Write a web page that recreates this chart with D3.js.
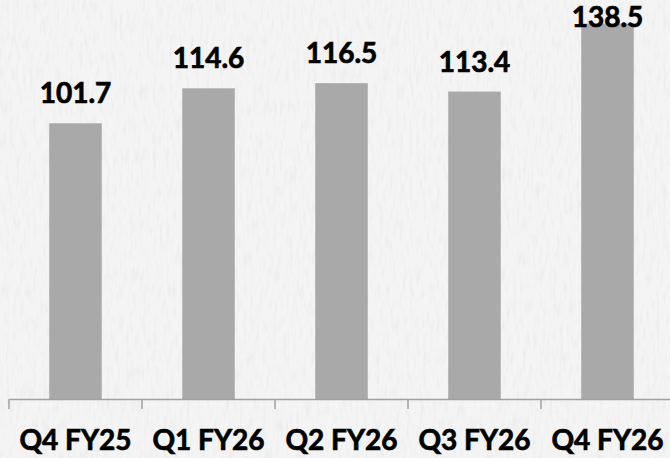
<!DOCTYPE html>
<html>
<head>
<meta charset="utf-8">
<script src="https://cdn.jsdelivr.net/npm/d3@7"></script>
<style>
  body { margin: 0; background: #f1f1f1; }
  svg { display: block; }
  text { font-family: Lato, "Liberation Sans", sans-serif; font-weight: bold; fill: #000; stroke: #000; stroke-width: 0.7px; }
</style>
</head>
<body>
<div id="chart-area"></div>
<script>
var categories = ["Q4 FY25", "Q1 FY26", "Q2 FY26", "Q3 FY26", "Q4 FY26"];
var values = [101.7, 114.6, 116.5, 113.4, 138.5];
var valueLabels = ["101.7", "114.6", "116.5", "113.4", "138.5"];

var svgWidth = 670,
    svgHeight = 458,
    baseY = 399,
    left = 9;

var svg = d3.select("#chart-area")
            .append("svg")
            .attr("width", svgWidth)
            .attr("height", svgHeight);

// paper-like texture for the background
var defs = svg.append("defs");
var filter = defs.append("filter").attr("id", "paper")
                 .attr("x", 0).attr("y", 0).attr("width", "100%").attr("height", "100%");
filter.append("feTurbulence")
      .attr("type", "fractalNoise")
      .attr("baseFrequency", "0.3 0.06")
      .attr("numOctaves", 3)
      .attr("seed", 4)
      .attr("result", "noise");
filter.append("feColorMatrix")
      .attr("in", "noise")
      .attr("type", "matrix")
      .attr("values", "0 0 0 0 0.6  0 0 0 0 0.6  0 0 0 0 0.6  -1.6 0 0 0 0.85");

svg.append("rect")
   .attr("width", svgWidth).attr("height", svgHeight)
   .attr("fill", "#f4f4f4");
svg.append("rect")
   .attr("width", svgWidth).attr("height", svgHeight)
   .attr("filter", "url(#paper)")
   .attr("opacity", 0.3);

var x = d3.scaleBand().domain(categories).range([left, left + 133 * categories.length]).padding(0);
var y = d3.scaleLinear().domain([0, 140]).range([baseY, baseY - 140 * 2.711]);

var barW = x.bandwidth() * 0.395;

svg.selectAll("rect.bar")
   .data(values)
   .enter().append("rect")
   .attr("class", "bar")
   .attr("x", function(d, i) { return x(categories[i]) + (x.bandwidth() - barW) / 2; })
   .attr("y", function(d) { return y(d); })
   .attr("width", barW)
   .attr("height", function(d) { return baseY - y(d); })
   .attr("fill", "#a9a9a9");

svg.selectAll("text.val")
   .data(values)
   .enter().append("text")
   .attr("class", "val")
   .attr("x", function(d, i) { return x(categories[i]) + x.bandwidth() / 2; })
   .attr("y", function(d) { return Math.max(y(d) - 20, 27); })
   .attr("text-anchor", "middle")
   .attr("font-size", 28)
   .text(function(d, i) { return valueLabels[i]; });

// axis
var xAxis = d3.axisBottom(x).tickSize(10).tickSizeOuter(0).tickFormat("");
var axisG = svg.append("g")
               .attr("transform", "translate(0," + baseY + ")")
               .call(xAxis);
axisG.select(".domain").attr("stroke", "#a0a0a0").attr("stroke-width", 1.5);
axisG.selectAll(".tick line")
     .attr("stroke", "#a0a0a0")
     .attr("stroke-width", 1.5)
     .attr("transform", function(d) { return "translate(" + (-x.bandwidth() / 2) + ",0)"; });

svg.selectAll("text.cat")
   .data(categories)
   .enter().append("text")
   .attr("class", "cat")
   .attr("x", function(d) { return x(d) + x.bandwidth() / 2; })
   .attr("y", 450)
   .attr("text-anchor", "middle")
   .attr("font-size", 28)
   .text(function(d) { return d; });
</script>
</body>
</html>
